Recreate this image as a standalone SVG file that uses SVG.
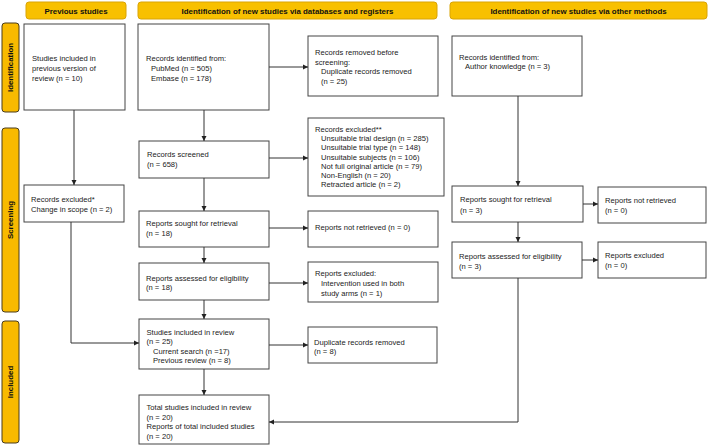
<svg xmlns="http://www.w3.org/2000/svg" width="709" height="446" viewBox="0 0 709 446">
<defs>
<style>
text{font-family:"Liberation Sans",Arial,sans-serif;font-size:7.6px;fill:#222}
.hd{fill:#F8C000;stroke:#D9A406;stroke-width:1}
.sd{fill:#F8BA00;stroke:#4a3c1c;stroke-width:1}
.ht{font-weight:bold;font-size:7.9px;text-anchor:middle;fill:#111}
.box{fill:#fff;stroke:#444;stroke-width:1}
.cn{fill:none;stroke:#333;stroke-width:1}
</style>
<marker id="ah" markerWidth="6" markerHeight="6" refX="5" refY="3" orient="auto" markerUnits="userSpaceOnUse">
<path d="M0,0.5 L5,3 L0,5.5 Z" fill="#222"/>
</marker>
</defs>
<rect width="709" height="446" fill="#fff"/>

<g id="headers">
<rect class="hd" x="26" y="2" width="100" height="17" rx="3"/>
<text class="ht" x="76" y="13.5">Previous studies</text>
<rect class="hd" x="138" y="2" width="299" height="17" rx="3"/>
<text class="ht" x="287.5" y="13.5">Identification of new studies via databases and registers</text>
<rect class="hd" x="450" y="2" width="257" height="17" rx="3"/>
<text class="ht" x="578.5" y="13.5">Identification of new studies via other methods</text>
</g>

<g id="sides">
<rect class="sd" x="2" y="23" width="17" height="89" rx="3"/>
<text class="ht" transform="translate(13.3,67.5) rotate(-90)" x="0" y="0">Identification</text>
<rect class="sd" x="2" y="128" width="17" height="184" rx="3"/>
<text class="ht" transform="translate(13.3,220) rotate(-90)" x="0" y="0">Screening</text>
<rect class="sd" x="2" y="321" width="17" height="122" rx="3"/>
<text class="ht" transform="translate(13.3,382) rotate(-90)" x="0" y="0">Included</text>
</g>

<g id="prev-included">
<rect class="box" x="24" y="24" width="101" height="86"/>
<text x="32" y="60.5">Studies included in</text>
<text x="32" y="70.5">previous version of</text>
<text x="32" y="80.5">review (n = 10)</text>
</g>
<g id="prev-excluded">
<rect class="box" x="24" y="185" width="100" height="37"/>
<text x="31" y="202">Records excluded*</text>
<text x="31" y="212">Change in scope (n = 2)</text>
</g>

<g id="db-identified">
<rect class="box" x="138" y="24" width="131" height="86"/>
<text x="146" y="60.5">Records identified from:</text>
<text x="151" y="70.5">PubMed (n = 505)</text>
<text x="151" y="80.5">Embase (n = 178)</text>
</g>
<g id="db-removed">
<rect class="box" x="308" y="36" width="130" height="60"/>
<text x="315" y="55">Records removed before</text>
<text x="315" y="64.5">screening:</text>
<text x="321" y="74">Duplicate records removed</text>
<text x="321" y="83.5">(n = 25)</text>
</g>
<g id="db-screened">
<rect class="box" x="139" y="141" width="130" height="37"/>
<text x="147" y="157">Records screened</text>
<text x="147" y="167">(n = 658)</text>
</g>
<g id="db-excluded">
<rect class="box" x="308" y="118" width="136" height="78"/>
<text x="315" y="132">Records excluded**</text>
<text x="321" y="141.2">Unsuitable trial design (n = 285)</text>
<text x="321" y="150.4">Unsuitable trial type (n = 148)</text>
<text x="321" y="159.6">Unsuitable subjects (n = 106)</text>
<text x="321" y="168.8">Not full original article (n = 79)</text>
<text x="321" y="178">Non-English (n = 20)</text>
<text x="321" y="187.2">Retracted article (n = 2)</text>
</g>
<g id="db-sought">
<rect class="box" x="139" y="211" width="130" height="36"/>
<text x="146" y="225.5">Reports sought for retrieval</text>
<text x="146" y="235.5">(n = 18)</text>
</g>
<g id="db-notretrieved">
<rect class="box" x="308" y="211" width="130" height="36"/>
<text x="315" y="230.3">Reports not retrieved (n = 0)</text>
</g>
<g id="db-assessed">
<rect class="box" x="139" y="263" width="130" height="37"/>
<text x="146" y="280.5">Reports assessed for eligibility</text>
<text x="146" y="290">(n = 18)</text>
</g>
<g id="db-reportsexcluded">
<rect class="box" x="308" y="262" width="130" height="40"/>
<text x="315" y="276">Reports excluded:</text>
<text x="321" y="285.5">Intervention used in both</text>
<text x="321" y="295.5">study arms (n = 1)</text>
</g>
<g id="db-included">
<rect class="box" x="139" y="319" width="130" height="50"/>
<text x="146.5" y="334.5">Studies included in review</text>
<text x="146.5" y="344">(n = 25)</text>
<text x="153" y="353.5">Current search (n =17)</text>
<text x="153" y="363">Previous review (n = 8)</text>
</g>
<g id="db-duplicates">
<rect class="box" x="308" y="327" width="129" height="36"/>
<text x="314" y="344.5">Duplicate records removed</text>
<text x="314" y="354">(n = 8)</text>
</g>
<g id="total">
<rect class="box" x="139" y="395" width="130" height="49"/>
<text x="146.5" y="410">Total studies included in review</text>
<text x="146.5" y="419.5">(n = 20)</text>
<text x="146.5" y="429">Reports of total included studies</text>
<text x="146.5" y="438.5">(n = 20)</text>
</g>

<g id="om-identified">
<rect class="box" x="452" y="36" width="130" height="60"/>
<text x="459" y="59.5">Records identified from:</text>
<text x="465" y="69">Author knowledge (n = 3)</text>
</g>
<g id="om-sought">
<rect class="box" x="452" y="186" width="131" height="36"/>
<text x="460" y="202">Reports sought for retrieval</text>
<text x="460" y="212.5">(n = 3)</text>
</g>
<g id="om-notretrieved">
<rect class="box" x="598" y="187" width="108" height="36"/>
<text x="605" y="202.5">Reports not retrieved</text>
<text x="605" y="213">(n = 0)</text>
</g>
<g id="om-assessed">
<rect class="box" x="452" y="242" width="130" height="36"/>
<text x="459" y="258.5">Reports assessed for eligibility</text>
<text x="459" y="268.5">(n = 3)</text>
</g>
<g id="om-excluded">
<rect class="box" x="598" y="242" width="108" height="36"/>
<text x="605" y="258">Reports excluded</text>
<text x="605" y="268">(n = 0)</text>
</g>

<g id="connectors">
<path class="cn" d="M74,110 V185" marker-end="url(#ah)"/>
<path class="cn" d="M71,222 V343 H139" marker-end="url(#ah)"/>
<path class="cn" d="M204,110 V141" marker-end="url(#ah)"/>
<path class="cn" d="M269,67 H308" marker-end="url(#ah)"/>
<path class="cn" d="M269,158 H308" marker-end="url(#ah)"/>
<path class="cn" d="M204,178 V211" marker-end="url(#ah)"/>
<path class="cn" d="M269,228 H308" marker-end="url(#ah)"/>
<path class="cn" d="M204,247 V263" marker-end="url(#ah)"/>
<path class="cn" d="M269,283 H308" marker-end="url(#ah)"/>
<path class="cn" d="M204,300 V319" marker-end="url(#ah)"/>
<path class="cn" d="M269,345 H308" marker-end="url(#ah)"/>
<path class="cn" d="M204,369 V395" marker-end="url(#ah)"/>
<path class="cn" d="M518,96 V186" marker-end="url(#ah)"/>
<path class="cn" d="M583,204 H598" marker-end="url(#ah)"/>
<path class="cn" d="M518,222 V242" marker-end="url(#ah)"/>
<path class="cn" d="M582,260 H598" marker-end="url(#ah)"/>
<path class="cn" d="M518,278 V422 H269" marker-end="url(#ah)"/>
</g>
</svg>
